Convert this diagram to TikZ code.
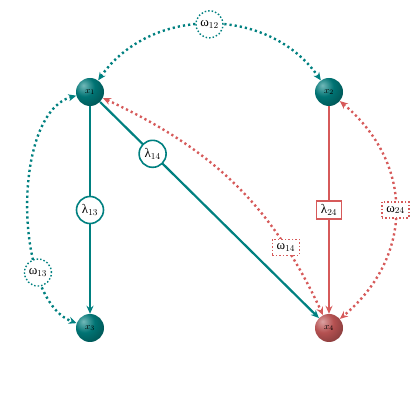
\documentclass[tikz,border=0pt]{standalone}
\usepackage{fontspec}
\newfontfamily\gk{Liberation Serif}
\usetikzlibrary{arrows.meta}
\definecolor{tl}{RGB}{0,128,128}
\definecolor{rd}{RGB}{214,90,90}
\definecolor{rdb}{RGB}{190,85,85}
\pgfdeclareradialshading{tballsh}{\pgfpoint{-12bp}{12bp}}{color(0bp)=(tl!55!white); color(18bp)=(tl!90!black); color(42bp)=(tl!60!black); color(58bp)=(tl!35!black); color(100bp)=(tl!35!black)}
\pgfdeclareradialshading{rballsh}{\pgfpoint{-12bp}{12bp}}{color(0bp)=(rdb!55!white); color(18bp)=(rdb!95!black); color(42bp)=(rdb!65!black); color(58bp)=(rdb!40!black); color(100bp)=(rdb!40!black)}
\newcommand{\glab}[2]{{\gk #1}$_{#2}$}
\begin{document}
\begin{tikzpicture}[x=1pt,y=1pt,
  ball/.style={circle, minimum size=28pt, inner sep=0pt},
  balltext/.style={text=black, font=\fontsize{9.5}{10}\selectfont, inner sep=0pt},
  tball/.style={ball, shading=tballsh},
  rball/.style={ball, shading=rballsh},
  solidedge/.style={line width=2.2pt, -{Stealth[length=8pt,width=7pt]}},
  dotedge/.style={line width=2.4pt, dash pattern=on 2.2pt off 3pt, {Stealth[length=8pt,width=7pt]}-{Stealth[length=8pt,width=7pt]}},
  lab/.style={fill=white, text=black, font=\fontsize{13}{15}\selectfont},
  lamc/.style={lab, circle, draw=tl, line width=1.6pt, inner sep=0pt, minimum size=27pt},
  lamr/.style={lab, rectangle, draw=rd, line width=1.6pt, inner sep=1pt, minimum width=25pt, minimum height=18pt},
  omc/.style={lab, circle, draw=tl, line width=1.4pt, dash pattern=on 1.5pt off 2pt, inner sep=0pt, minimum size=27pt},
  omr/.style={lab, rectangle, draw=rd, line width=1.4pt, dash pattern=on 1.5pt off 2pt, inner sep=1pt, minimum width=27pt, minimum height=16pt}
]
\useasboundingbox (0,0) rectangle (420,420);
\node[tball] (x1) at (90,328) {};
\node[tball] (x2) at (329,328) {};
\node[tball] (x3) at (90,92) {};
\node[rball] (x4) at (329,92) {};
\node[balltext] (t1) at (x1) {$x_1$};
\node[balltext] (t2) at (x2) {$x_2$};
\node[balltext] (t3) at (x3) {$x_3$};
\node[balltext] (t4) at (x4) {$x_4$};

\draw[solidedge, tl] (x1) -- node[lamc] (l13) {\glab{λ}{13}} (x3);
\draw[solidedge, tl] (x1) -- node[lamc, pos=0.24] (l14) {\glab{λ}{14}} (x4);
\draw[solidedge, rd] (x2) -- node[lamr] (l24) {\glab{λ}{24}} (x4);

\draw[dotedge, tl] (x1) to[out=55, in=125, looseness=1.05] node[omc] (w12) {\glab{ω}{12}} (x2);
\draw[dotedge, tl] (x1) to[out=195, in=160, looseness=0.76] node[omc, pos=0.72] (w13) {\glab{ω}{13}} (x3);
\draw[dotedge, rd] (x1) to[out=-25, in=115] node[omr, pos=0.77] (w14) {\glab{ω}{14}} (x4);
\draw[dotedge, rd] (x2) to[out=-40, in=40, looseness=1.14] node[omr] (w24) {\glab{ω}{24}} (x4);
\end{tikzpicture}
\end{document}
